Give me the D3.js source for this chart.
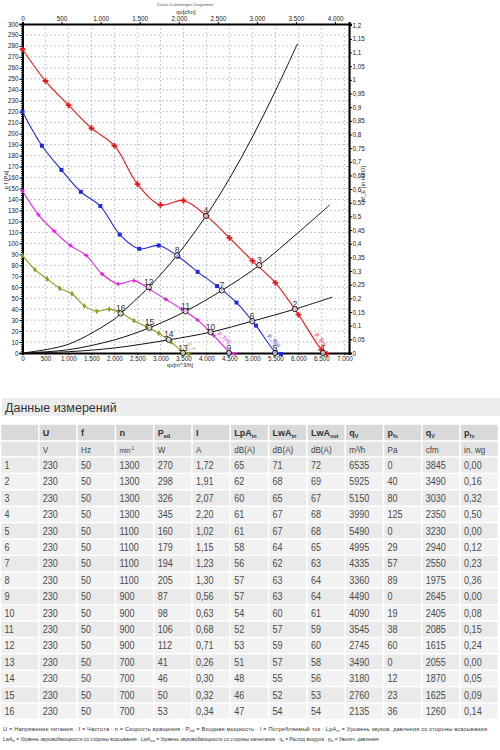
<!DOCTYPE html>
<html><head><meta charset="utf-8">
<script src="https://cdn.jsdelivr.net/npm/d3@7"></script>
<style>body{margin:0;background:#fff;} svg{display:block;font-family:"Liberation Sans",Arial,sans-serif;}</style>
</head><body><svg id="c" width="500" height="750"></svg>
<script>
// ---- fan curves (qv m3/h, pf Pa) ----
const redQ = [0,500,1000,1500,2000,2500,3000,3500,4000,4500,5000,5500,6000,6500,6620];
const redP = [277,248,226,205,189,154,135,139,125,105,84,64,35,3,-1];
const blueQ = [0,423,846,1269,1692,2115,2538,2962,3385,3808,4231,4654,5077,5500,5620];
const blueP = [220,189,167,147,134,108,95,98,88,74,61,46,25,1,-1];
const magQ = [0,346,692,1038,1385,1731,2077,2423,2769,3115,3462,3808,4154,4500,4620];
const magP = [148,126,111,98,89,72,63,66,58,49,40,30,16,1,-1];
const oliQ = [0,269,538,808,1077,1346,1615,1885,2154,2423,2692,2962,3231,3500,3620];
const oliP = [89,76,67.5,59,54,43,38,40,36,29.5,24,18,10,1,-1];
// ---- system curves ----
const sysAQ = [0,1000,2000,2135,2745,3360,3990,4500,5000,5500,5980];
const sysAP = [0,8,31,36,60,89,125,159,197,239,282];
const sysBQ = [0,1000,2000,2760,3545,4335,5150,6000,6680];
const sysBP = [0,3,12,23,38,57,80,110,135];
const sysCQ = [0,1000,2000,3180,4090,4995,5925,6740];
const sysCP = [0,1.2,4.6,12,19,29,40,51];
// ---- measurement table ----
const rowNo = [1,2,3,4,5,6,7,8,9,10,11,12,13,14,15,16];
const U = [230,230,230,230,230,230,230,230,230,230,230,230,230,230,230,230];
const F = [50,50,50,50,50,50,50,50,50,50,50,50,50,50,50,50];
const N = [1300,1300,1300,1300,1100,1100,1100,1100,900,900,900,900,700,700,700,700];
const Ped = [270,298,326,345,160,179,194,205,87,98,106,112,41,46,50,53];
const I = ["1,72","1,91","2,07","2,20","1,02","1,15","1,23","1,30","0,56","0,63","0,68","0,71","0,26","0,30","0,32","0,34"];
const LpAin = [65,62,60,61,61,58,56,57,57,54,52,53,51,48,46,47];
const LwAin = [71,68,65,67,67,64,62,63,63,60,57,59,57,55,52,54];
const LwAout = [72,69,67,68,68,65,63,64,64,61,59,60,58,56,53,54];
const qV = [6535,5925,5150,3990,5490,4995,4335,3360,4490,4090,3545,2745,3490,3180,2760,2135];
const pfs = [0,40,80,125,0,29,57,89,0,19,38,60,0,12,23,36];
const qCfm = [3845,3490,3030,2350,3230,2940,2550,1975,2645,2405,2085,1615,2055,1870,1625,1260];
const pInwg = ["0,00","0,16","0,32","0,50","0,00","0,12","0,23","0,36","0,00","0,08","0,15","0,24","0,00","0,05","0,09","0,14"];
const xTicks = [0,500,1000,1500,2000,2500,3000,3500,4000,4500,5000,5500,6000,6500,7000];
const cfmTicks = [0,500,1000,1500,2000,2500,3000,3500,4000];

const svg = d3.select("#c");
const L=22.5, R=349, T=24, B=353;
const x = d3.scaleLinear().domain([0,7100]).range([L,R]);
const xc = d3.scaleLinear().domain([0,7100/1.699]).range([L,R]);
const y = d3.scaleLinear().domain([0,300]).range([B,T]);
const yr = d3.scaleLinear().domain([0,300/249.09]).range([B,T]);
const dotFmt = d => d3.format(",")(d).replace(/,/g,".");
const comFmt = d => String(+d.toFixed(2)).replace(".",",");

// title
svg.append("text").attr("x",185).attr("y",6).attr("text-anchor","middle").attr("font-size",4.2).attr("fill","#555").text("Druck-/Luftmengen Diagramm");
svg.append("text").attr("x",186).attr("y",14).attr("text-anchor","middle").attr("font-size",6).attr("fill","#222").text("qv[cfm]");

// grid
const g = svg.append("g");
g.selectAll(".gv").data(d3.range(500,7001,500)).join("line")
 .attr("x1",d=>x(d)).attr("x2",d=>x(d)).attr("y1",T).attr("y2",B)
 .attr("stroke","#888").attr("stroke-width",0.6).attr("stroke-dasharray","1.5,2.5");
g.selectAll(".gh").data(d3.range(10,300,10)).join("line")
 .attr("x1",L).attr("x2",R).attr("y1",d=>y(d)).attr("y2",d=>y(d))
 .attr("stroke","#888").attr("stroke-width",0.6).attr("stroke-dasharray","1.5,2.5");

// axes
function styleAxis(sel){ sel.selectAll("text").attr("font-size",6.3).attr("fill","#222"); sel.select(".domain").attr("stroke-width",2); }
svg.append("g").attr("transform",`translate(${L},0)`).call(d3.axisLeft(y).tickValues(d3.range(0,301,2)).tickSize(1.5).tickFormat("")).select(".domain").remove();
svg.append("g").attr("transform",`translate(${L},0)`).call(d3.axisLeft(y).tickValues(d3.range(0,301,10)).tickSize(3).tickPadding(1)).call(styleAxis);
svg.append("g").attr("transform",`translate(${R},0)`).call(d3.axisRight(yr).tickValues(d3.range(0,1.2001,0.01)).tickSize(1.5).tickFormat("")).select(".domain").remove();
svg.append("g").attr("transform",`translate(${R},0)`).call(d3.axisRight(yr).tickValues(d3.range(0,24.5,1).map(v=>v*0.05)).tickSize(3).tickPadding(0.5).tickFormat(comFmt)).call(styleAxis);
svg.append("g").attr("transform",`translate(0,${B})`).call(d3.axisBottom(x).tickValues(xTicks).tickSize(2).tickPadding(2).tickFormat(dotFmt)).call(styleAxis);
svg.append("g").attr("transform",`translate(0,${T})`).call(d3.axisTop(xc).tickValues(cfmTicks).tickSize(2).tickPadding(1.5).tickFormat(dotFmt)).call(styleAxis);
svg.append("text").attr("x",180).attr("y",367).attr("text-anchor","middle").attr("font-size",6).attr("fill","#222").text("qv[m^3/h]");
svg.append("text").attr("transform","translate(8,180) rotate(-90)").attr("text-anchor","middle").attr("font-size",6).attr("fill","#222").text("p f [Pa]");
svg.append("text").attr("transform","translate(365,184) rotate(-90)").attr("text-anchor","middle").attr("font-size",6).attr("fill","#222").text("pf_E [in H2O]");

// system curves
const line = d3.line().x(d=>x(d[0])).y(d=>y(d[1])).curve(d3.curveCatmullRom);
[[sysAQ,sysAP],[sysBQ,sysBP],[sysCQ,sysCP]].forEach(([q,p])=>{
  svg.append("path").attr("d",line(q.map((v,i)=>[v,p[i]]))).attr("fill","none").attr("stroke","#111").attr("stroke-width",1);
});

// fan curves
const fans = [
 {q:redQ,p:redP,c:"#e8191c",sym:d3.symbolCross,s:18,lab:"p_f(n)",rot:56,k:-3,mid:true,dx:5,dy:2},
 {q:blueQ,p:blueP,c:"#1f28e0",sym:d3.symbolSquare,s:16,lab:"p_f(n)",rot:50,k:-3,mid:true,dx:2,dy:-3},
 {q:magQ,p:magP,c:"#e61ee6",sym:d3.symbolCross,s:9,lab:"p_f(n)",rot:44,k:-3,mid:false,dx:4,dy:-2},
 {q:oliQ,p:oliP,c:"#8f9a1c",sym:d3.symbolDiamond,s:10,lab:"p_f",rot:55,k:-2,mid:false,dx:4,dy:-8}
];
fans.forEach(f=>{
  const pts=f.q.map((v,i)=>[v,f.p[i]]);
  svg.append("path").attr("d",line(pts)).attr("fill","none").attr("stroke",f.c).attr("stroke-width",1.1);
  svg.selectAll(null).data(pts).join("path")
   .attr("transform",d=>`translate(${x(d[0])},${y(d[1])})`)
   .attr("d",d3.symbol().type(f.sym).size(f.s)).attr("fill",f.c);
  const n=pts.length, a=pts[n+f.k], b=pts[n+f.k+1];
  const ax = f.mid ? (x(a[0])+x(b[0]))/2 : x(a[0]);
  const ay = f.mid ? (y(a[1])+y(b[1]))/2 : y(a[1]);
  svg.append("text").attr("transform",`translate(${ax+f.dx},${ay+f.dy}) rotate(${f.rot})`)
   .attr("font-size",6).attr("fill",f.c).text(f.lab);
});

// operating points
const ops = qV.map((v,i)=>({q:v,p:pfs[i],n:rowNo[i]}));
svg.selectAll(".op").data(ops).join("circle").attr("cx",d=>x(d.q)).attr("cy",d=>y(d.p)).attr("r",2.6)
 .attr("fill","#fff").attr("fill-opacity",0.6).attr("stroke","#111").attr("stroke-width",0.9);
svg.selectAll(".opl").data(ops).join("text").attr("x",d=>x(d.q)).attr("y",d=>y(d.p)-2.5)
 .attr("text-anchor","middle").attr("font-size",8.5).attr("fill","#333").text(d=>d.n);

// ---- table section ----
svg.append("rect").attr("x",2).attr("y",398).attr("width",498).attr("height",18).attr("fill","#ececec");
svg.append("text").attr("x",5).attr("y",412).attr("font-size",12.5).attr("fill","#333").text("Данные измерений");

const colW=38.3, x0=0.5;
const head1=[["",""],["U",""],["f",""],["n",""],["P","ed"],["I",""],["LpA","in"],["LwA","in"],["LwA","out"],["q","V"],["p","fs"],["q","V"],["p","fs"]];
const head2=["","V","Hz","min-1","W","A","dB(A)","dB(A)","dB(A)","m³/h","Pa","cfm","in. wg"];
const cols=[rowNo,U,F,N,Ped,I,LpAin,LwAin,LwAout,qV,pfs,qCfm,pInwg];
const tg=svg.append("g");
function cell(cx,cy,w,h,fill){ tg.append("rect").attr("x",cx+0.75).attr("y",cy+0.75).attr("width",w-1.5).attr("height",h-1.5).attr("fill",fill); }
head1.forEach((h,j)=>{
  cell(x0+j*colW,424,colW,17,"#d9d9d9");
  const t=tg.append("text").attr("x",x0+j*colW+4).attr("y",436).attr("font-size",9).attr("font-weight","bold").attr("fill","#333");
  t.append("tspan").text(h[0]);
  if(h[1]) t.append("tspan").attr("font-size",5.5).attr("dy",1.5).text(h[1]);
});
head2.forEach((h,j)=>{
  cell(x0+j*colW,441,colW,16,"#e3e3e3");
  const t=tg.append("text").attr("transform",`translate(${x0+j*colW+4},452.5) scale(0.9,1)`).attr("font-size",9).attr("fill","#444");
  if(h==="min-1"){ t.append("tspan").attr("font-size",7.5).text("min"); t.append("tspan").attr("font-size",5).attr("dy",-3).text("-1"); }
  else t.text(h);
});
const rowH=16.4, r0=457;
rowNo.forEach((r,i)=>{
  cols.forEach((c,j)=>{
    cell(x0+j*colW,r0+i*rowH,colW,rowH,i%2? "#f2f2f2":"#eaeaea");
    tg.append("text").attr("transform",`translate(${x0+j*colW+4},${r0+i*rowH+12}) scale(0.86,1)`).attr("font-size",10.5)
      .attr("fill","#4a4a4a").text(c[i]);
  });
});

// footnote
const fn1=[["U = Напряжение питания · f = Частота · n = Скорость вращения · P"],["ed",1],[" = Входная мощность · I = Потребляемый ток · LpA"],["in",1],[" = Уровень звуков. давления со стороны всасывания"]];
const fn2=[["LwA"],["in",1],[" = Уровень звуковоймощности со стороны всасывания · LwA"],["out",1],[" = Уровень звуковоймощности со стороны нагнетания · q"],["v",1],[" = Расход воздуха · p"],["fs",1],[" = Увелич. давления"]];
function foot(parts,yy,fs,len){
  const t=svg.append("text").attr("x",3).attr("y",yy).attr("font-size",fs).attr("fill","#333");
  if(len) t.attr("textLength",len).attr("lengthAdjust","spacing");
  let sub=false;
  parts.forEach(p=>{
    const ts=t.append("tspan").text(p[0]);
    if(p[1]){ ts.attr("font-size",fs*0.7).attr("dy",1); sub=true; }
    else if(sub){ ts.attr("dy",-1); sub=false; }
  });
}
foot(fn1,731,5.7,484);
foot(fn2,741,4.8,0);
</script></body></html>
